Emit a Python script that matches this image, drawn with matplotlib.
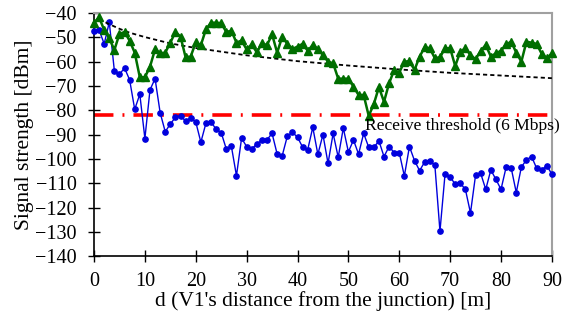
import matplotlib
matplotlib.use("Agg")
import matplotlib.pyplot as plt
import numpy as np

# distance of V1 from the junction [m]
distance = np.arange(0, 91)

# measured signal strength, lower series (blue diamonds) [dBm]
signal_blue = [
    -47.3, -47.0, -52.7, -43.8, -63.8, -65.2, -62.6, -67.5, -79.6, -73.4,
    -91.6, -71.6, -67.0, -81.0, -88.8, -85.6, -82.9, -82.3, -84.4, -83.2,
    -84.8, -93.1, -85.3, -84.9, -87.7, -89.2, -95.9, -94.8, -106.9, -91.5,
    -94.9, -95.9, -93.8, -92.3, -92.1, -89.5, -98.0, -98.6, -90.6, -89.0,
    -91.1, -95.1, -96.2, -87.0, -98.1, -90.0, -101.8, -89.5, -99.3, -87.3,
    -97.1, -92.2, -98.0, -89.5, -95.2, -95.2, -92.6, -99.0, -94.9, -97.4,
    -97.4, -107.0, -94.9, -100.7, -104.8, -101.2, -100.8, -102.6, -129.7, -106.2,
    -107.5, -110.3, -110.0, -112.5, -122.2, -106.6, -105.9, -112.5, -104.5, -108.4,
    -112.5, -103.4, -103.7, -113.8, -103.3, -100.4, -99.0, -103.8, -104.5, -102.7,
    -106.3,
]

# measured signal strength, upper series (green triangles) [dBm]
signal_green = [
    -44.0, -41.8, -47.0, -50.4, -55.2, -48.6, -47.8, -51.4, -56.3, -66.4,
    -66.4, -62.1, -54.9, -56.6, -56.3, -52.2, -47.8, -49.7, -58.2, -57.9,
    -52.1, -53.2, -46.7, -44.0, -44.0, -44.2, -47.8, -47.3, -52.2, -51.3,
    -55.0, -52.9, -56.2, -52.5, -53.2, -48.8, -56.3, -49.7, -52.7, -54.8,
    -53.8, -52.7, -55.5, -53.2, -54.8, -57.3, -60.0, -60.7, -67.0, -67.0,
    -67.0, -70.3, -73.7, -73.7, -82.3, -77.4, -70.5, -76.5, -68.9, -63.4,
    -64.5, -60.0, -59.8, -63.4, -57.9, -54.1, -54.5, -58.6, -58.2, -54.5,
    -54.5, -61.8, -55.9, -54.5, -57.3, -59.0, -55.5, -53.2, -57.9, -56.6,
    -55.5, -52.9, -51.8, -56.3, -60.0, -51.8, -52.2, -52.7, -56.8, -58.6,
    -56.6,
]

# path loss model curve (black dashed)
model_d = [1, 2, 3, 5, 7, 10, 15, 20, 30, 40, 50, 60, 70, 80, 90]
model_dbm = [-42.5, -43.6, -44.6, -46.5, -48.1, -49.9, -52.5, -54.4, -57.4,
             -59.8, -61.6, -63.2, -64.6, -65.7, -66.8]

threshold = -82
threshold_label = "Receive threshold (6 Mbps)"

plt.rcParams["font.family"] = ["Liberation Serif", "DejaVu Serif"]
plt.rcParams["axes.unicode_minus"] = True
plt.rcParams["lines.scale_dashes"] = False

fig = plt.figure(figsize=(5.62, 3.23), dpi=100)
ax = fig.add_axes([0.1673, 0.2065, 0.8147, 0.7533])

# threshold line
ax.axhline(threshold, color="#ff0000", linewidth=2.6,
           dashes=(14, 6.5, 1.4, 6.5), zorder=2)
ax.text(53.3, threshold - 4.6, threshold_label, fontsize=12.6,
        va="center", ha="left", zorder=6, clip_on=False)

# model curve
ax.plot(model_d, model_dbm, color="black", linewidth=1.3,
        dashes=(3, 2.2), zorder=4)

ax.plot(distance, signal_blue, color="#0000dd", linewidth=1.0,
        marker="o", markersize=3.8, zorder=3, clip_on=False)
ax.plot(distance, signal_green, color="#006e00", linewidth=1.8,
        marker="^", markersize=5.6, zorder=5, clip_on=False)

ax.set_xlim(0, 90)
ax.set_ylim(-140, -40)
ax.set_xticks(np.arange(0, 91, 10))
ax.set_yticks(np.arange(-140, -39, 10))
ax.tick_params(direction="inout", length=9, width=1, labelsize=14.5,
               colors="black")
ax.tick_params(axis="x", pad=7)
ax.tick_params(axis="y", pad=8)

for side in ["left", "bottom"]:
    ax.spines[side].set_color("black")
    ax.spines[side].set_linewidth(1.2)
for side in ["top", "right"]:
    ax.spines[side].set_color("#a0a0a0")
    ax.spines[side].set_linewidth(1.5)

ax.set_xlabel("d (V1's distance from the junction) [m]", fontsize=15.5,
              labelpad=0)
ax.set_ylabel("Signal strength [dBm]", fontsize=15.5, labelpad=1)

fig.savefig("out.png", dpi=100)
